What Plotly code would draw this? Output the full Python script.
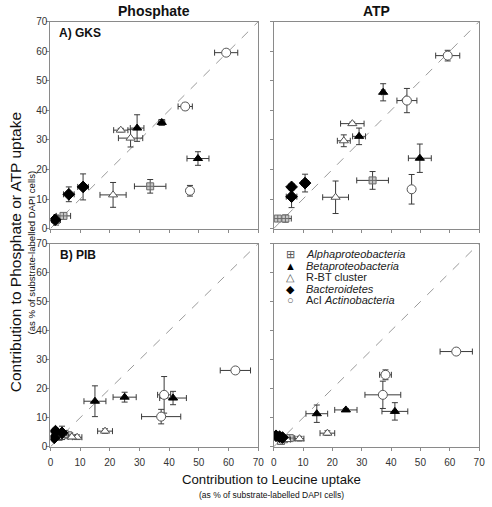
import plotly.graph_objects as go

W, H = 492, 507
AXIS_MAX = 70

GROUPS = ["alpha", "beta", "rbt", "bact", "actino"]
GROUP_NAMES = ["<i>Alphaproteobacteria</i>", "<i>Betaproteobacteria</i>", "R-BT cluster",
               "<i>Bacteroidetes</i>", "AcI <i>Actinobacteria</i>"]

# ---- Panel A) GKS, Phosphate  (x, y, x-error, y-error) ----
gks_po4_x = {"alpha": [33.6, 4.4, 1.9], "beta": [29.2, 37.5, 49.7], "rbt": [23.7, 27.0, 21.1],
             "bact": [6.2, 11.0, 1.6], "actino": [59.2, 45.4, 47.0]}
gks_po4_y = {"alpha": [14.3, 4.3, 2.9], "beta": [34.0, 35.9, 23.7], "rbt": [33.3, 30.6, 11.4],
             "bact": [11.6, 14.1, 3.0], "actino": [59.5, 41.3, 12.8]}
gks_po4_ex = {"alpha": [5.3, 2.4, 1.5], "beta": [2.3, 1.0, 3.7], "rbt": [2.4, 4.1, 4.4],
              "bact": [1.8, 1.8, 0.8], "actino": [3.9, 2.4, 0.4]}
gks_po4_ey = {"alpha": [2.3, 0.7, 1.7], "beta": [4.5, 1.0, 2.3], "rbt": [0.6, 3.0, 4.2],
              "bact": [2.5, 4.4, 0.8], "actino": [0.8, 1.1, 1.8]}

# ---- Panel A) GKS, ATP ----
gks_atp_x = {"alpha": [33.7, 1.4, 4.0], "beta": [37.3, 29.1, 49.8], "rbt": [26.8, 23.9, 21.1],
             "bact": [10.7, 6.1, 6.1], "actino": [59.3, 45.4, 47.0]}
gks_atp_y = {"alpha": [16.3, 3.4, 3.4], "beta": [46.1, 31.2, 23.8], "rbt": [35.5, 29.7, 10.6],
             "bact": [15.4, 14.1, 10.8], "actino": [58.5, 43.3, 13.3]}
gks_atp_ex = {"alpha": [5.4, 0.8, 2.0], "beta": [0.6, 2.2, 3.9], "rbt": [4.0, 2.2, 4.4],
              "bact": [1.2, 1.0, 1.8], "actino": [4.1, 3.4, 0.4]}
gks_atp_ey = {"alpha": [3.0, 0.8, 1.2], "beta": [2.9, 2.8, 4.8], "rbt": [0.5, 2.0, 5.5],
              "bact": [3.0, 1.0, 3.7], "actino": [1.8, 4.1, 5.0]}

# ---- Panel B) PIB, Phosphate ----
pib_po4_x = {"alpha": [6.0, 4.8, 2.8], "beta": [15.0, 25.0, 41.3], "rbt": [18.4, 9.0, 7.2],
             "bact": [1.7, 3.9, 1.3], "actino": [62.3, 38.3, 37.3]}
pib_po4_y = {"alpha": [4.0, 4.4, 3.4], "beta": [15.7, 17.1, 16.8], "rbt": [5.4, 3.3, 3.4],
             "bact": [5.4, 4.8, 3.1], "actino": [26.3, 17.9, 10.4]}
pib_po4_ex = {"alpha": [1.5, 1.2, 1.0], "beta": [3.7, 3.9, 4.5], "rbt": [2.5, 1.6, 1.2],
              "bact": [1.0, 1.5, 0.7], "actino": [5.1, 2.2, 6.6]}
pib_po4_ey = {"alpha": [0.8, 0.8, 0.6], "beta": [5.3, 1.7, 2.3], "rbt": [0.8, 0.8, 0.6],
              "bact": [1.0, 2.3, 0.7], "actino": [0.7, 6.3, 2.5]}

# ---- Panel B) PIB, ATP ----
pib_atp_x = {"alpha": [3.5, 5.5, 2.5], "beta": [14.7, 24.6, 41.3], "rbt": [18.3, 8.8, 4.5],
             "bact": [0.8, 2.0, 3.0], "actino": [62.2, 38.1, 37.2]}
pib_atp_y = {"alpha": [2.6, 3.0, 2.0], "beta": [11.4, 12.7, 12.2], "rbt": [4.7, 2.8, 2.5],
             "bact": [3.8, 3.5, 3.2], "actino": [32.8, 24.8, 17.9]}
pib_atp_ex = {"alpha": [1.2, 1.5, 1.0], "beta": [3.7, 3.8, 4.4], "rbt": [2.5, 1.5, 1.2],
              "bact": [0.8, 1.0, 1.0], "actino": [5.5, 2.0, 6.1]}
pib_atp_ey = {"alpha": [0.6, 0.8, 0.6], "beta": [3.0, 0.5, 3.0], "rbt": [0.8, 0.8, 0.6],
              "bact": [0.6, 0.6, 0.6], "actino": [0.5, 1.7, 4.7]}

X_TICKS = [0, 10, 20, 30, 40, 50, 60, 70]
Y_TICKS = [0, 10, 20, 30, 40, 50, 60, 70]

MARKERS = {
    "alpha": dict(symbol="square-cross", color="#c8c8c8", size=7, line=dict(color="#6a6a6a", width=1)),
    "beta": dict(symbol="triangle-up", color="#000000", size=8, line=dict(color="#000000", width=1)),
    "rbt": dict(symbol="triangle-up", color="#ffffff", size=8, line=dict(color="#555555", width=1)),
    "bact": dict(symbol="diamond", color="#000000", size=9, line=dict(color="#000000", width=1)),
    "actino": dict(symbol="circle", color="#ffffff", size=9, line=dict(color="#555555", width=1)),
}
ERR_COLOR = "#3a3a3a"

panels = [
    ("x", "y", gks_po4_x, gks_po4_y, gks_po4_ex, gks_po4_ey),
    ("x2", "y2", gks_atp_x, gks_atp_y, gks_atp_ex, gks_atp_ey),
    ("x3", "y3", pib_po4_x, pib_po4_y, pib_po4_ex, pib_po4_ey),
    ("x4", "y4", pib_atp_x, pib_atp_y, pib_atp_ex, pib_atp_ey),
]

fig = go.Figure()
shapes = []
for xa, ya, px, py, pex, pey in panels:
    shapes.append(dict(type="line", xref=xa, yref=ya, x0=0, y0=0, x1=AXIS_MAX, y1=AXIS_MAX,
                       line=dict(color="#9a9a9a", width=1, dash="dash"), layer="below"))
    for g, name in zip(GROUPS, GROUP_NAMES):
        fig.add_trace(go.Scatter(
            x=px[g], y=py[g], xaxis=xa, yaxis=ya, mode="markers", name=name, showlegend=False,
            marker=MARKERS[g], hoverinfo="skip",
            error_x=dict(type="data", array=pex[g], color=ERR_COLOR, thickness=1, width=3),
            error_y=dict(type="data", array=pey[g], color=ERR_COLOR, thickness=1, width=3),
        ))

XL = [48.3 / W, 260 / W]
XR = [275.7 / W, 485 / W]
YT = [1 - 228 / H, 1 - 16 / H]
YB = [1 - 451.5 / H, 1 - 243.3 / H]

def ax(domain, anchor, show_labels, ticks, standoff=0):
    return dict(domain=domain, anchor=anchor, range=[0, AXIS_MAX], tickvals=ticks,
                showticklabels=show_labels, showline=True, mirror=True, linecolor="#8a8a8a",
                linewidth=1, ticks="outside", ticklen=3, tickcolor="#8a8a8a",
                ticklabelstandoff=standoff,
                showgrid=False, zeroline=False,
                tickfont=dict(size=10, color="#333333", family="Liberation Sans, Arial"))

layout = dict(
    width=W, height=H, margin=dict(l=0, r=0, t=0, b=0),
    paper_bgcolor="white", plot_bgcolor="white", showlegend=False, hovermode=False,
    font=dict(family="Liberation Sans, Arial", color="#222222"),
    xaxis=ax(XL, "y", False, X_TICKS), yaxis=ax(YT, "x", True, Y_TICKS, -3),
    xaxis2=ax(XR, "y2", False, X_TICKS), yaxis2=ax(YT, "x2", False, Y_TICKS),
    xaxis3=ax(XL, "y3", True, X_TICKS, 3), yaxis3=ax(YB, "x3", True, Y_TICKS, -3),
    xaxis4=ax(XR, "y4", True, X_TICKS, 3), yaxis4=ax(YB, "x4", False, Y_TICKS),
    shapes=shapes,
)
fig.update_layout(**layout)

ann = []
def A(text, x, y, size, bold=False, angle=0, xanchor="center", color="#111111"):
    ann.append(dict(text=f"<b>{text}</b>" if bold else text, x=x, y=y, xref="paper", yref="paper",
                    showarrow=False, textangle=angle, xanchor=xanchor, yanchor="middle",
                    font=dict(size=size, color=color, family="Liberation Sans, Arial")))

A("Phosphate", (XL[0] + XL[1]) / 2, 1 - 5 / H, 14, bold=True)
A("ATP", (XR[0] + XR[1]) / 2, 1 - 5 / H, 14, bold=True)
A("A) GKS", 55.5 / W, 1 - 28 / H, 12, bold=True, xanchor="left")
A("B) PIB", 56.5 / W, 1 - 255 / H, 12, bold=True, xanchor="left")
A("Contribution to Phosphate or ATP uptake", 12.5 / W, 1 - 252 / H, 15.5, angle=-90)
A("(as % of substrate-labelled DAPI cells)", 29 / W, 1 - 252 / H, 9.6, angle=-90)
A("Contribution to Leucine uptake", 274 / W, 1 - 485 / H, 13.2)
A("(as % of substrate-labelled DAPI cells)", 274 / W, 1 - 501 / H, 8.5)

LEG_SYMBOLS = ["⊞", "▲", "△", "◆", "○"]
LEG_COLORS = ["#555555", "#000000", "#555555", "#000000", "#555555"]
for i, (sym, col, name) in enumerate(zip(LEG_SYMBOLS, LEG_COLORS, GROUP_NAMES)):
    yy = 1 - (254 + i * 11.9) / H
    A(sym, 293.3 / W, yy, 11, xanchor="center", color=col)
    A(name, 306.5 / W, yy, 11, xanchor="left", color="#222222")

fig.update_layout(annotations=ann)
fig.write_html("out.html", config={"displayModeBar": False, "staticPlot": True},
               post_script="document.body.style.margin='0';document.body.style.padding='0';")
